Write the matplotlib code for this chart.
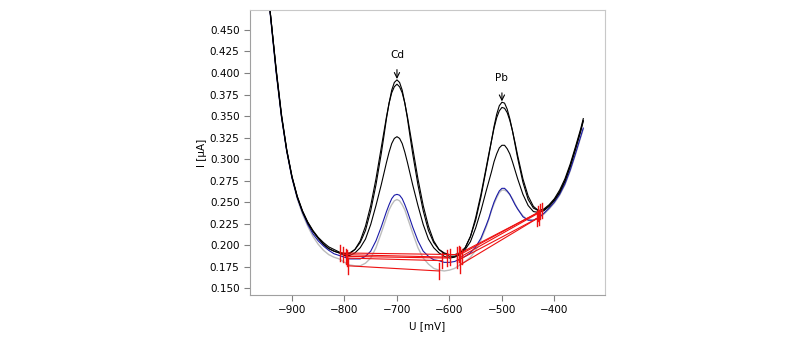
import numpy as np
import matplotlib
matplotlib.use('Agg')
import matplotlib.pyplot as plt

# potential grid (mV), shared by all scans (finer around the two peaks)
u = [-950, -940, -930, -920, -910, -900, -890, -880, -870, -860,
     -850, -840, -830, -820, -810, -800, -790, -780, -770, -760,
     -750, -740, -730,
     -725, -720, -715, -710, -705, -700, -695, -690, -685, -680, -675,
     -670, -660, -650, -640, -630, -620, -610, -600, -590, -580,
     -570, -560, -550, -540, -530,
     -525, -520, -515, -510, -505, -500, -495, -490, -485, -480, -475,
     -470, -460, -450, -440, -430, -420, -410, -400, -390, -380,
     -370, -360, -350, -345]

# currents (uA)
scan_a = [0.520, 0.462, 0.404, 0.352, 0.311, 0.280, 0.257, 0.240, 0.227, 0.217,
          0.209, 0.203, 0.198, 0.195, 0.192, 0.190, 0.191, 0.195, 0.203, 0.217,
          0.240, 0.270, 0.306,
          0.326, 0.347, 0.365, 0.380, 0.389, 0.392, 0.389, 0.380, 0.365, 0.347, 0.326,
          0.306, 0.270, 0.240, 0.217, 0.203, 0.195, 0.191, 0.189, 0.189, 0.191,
          0.197, 0.210, 0.229, 0.256, 0.288,
          0.304, 0.321, 0.338, 0.352, 0.362, 0.366, 0.365, 0.358, 0.347, 0.333, 0.317,
          0.301, 0.273, 0.253, 0.243, 0.240, 0.242, 0.247, 0.254, 0.264, 0.277,
          0.294, 0.314, 0.335, 0.347]
scan_b = [0.520, 0.462, 0.402, 0.350, 0.310, 0.279, 0.256, 0.239, 0.226, 0.216,
          0.208, 0.201, 0.196, 0.193, 0.191, 0.189, 0.190, 0.195, 0.205, 0.222,
          0.246, 0.277, 0.313,
          0.331, 0.349, 0.365, 0.377, 0.384, 0.387, 0.384, 0.377, 0.365, 0.349, 0.331,
          0.313, 0.277, 0.246, 0.222, 0.205, 0.195, 0.190, 0.187, 0.187, 0.190,
          0.197, 0.210, 0.232, 0.259, 0.290,
          0.306, 0.321, 0.336, 0.348, 0.356, 0.360, 0.359, 0.354, 0.345, 0.333, 0.319,
          0.304, 0.277, 0.257, 0.245, 0.240, 0.241, 0.246, 0.253, 0.262, 0.275,
          0.292, 0.312, 0.333, 0.345]
scan_c = [0.520, 0.462, 0.402, 0.350, 0.310, 0.279, 0.256, 0.239, 0.226, 0.216,
          0.208, 0.201, 0.196, 0.193, 0.191, 0.188, 0.188, 0.191, 0.197, 0.207,
          0.224, 0.246, 0.270,
          0.283, 0.296, 0.308, 0.318, 0.324, 0.326, 0.324, 0.318, 0.308, 0.296, 0.283,
          0.270, 0.246, 0.224, 0.207, 0.197, 0.191, 0.187, 0.185, 0.186, 0.189,
          0.195, 0.204, 0.220, 0.240, 0.263,
          0.274, 0.285, 0.297, 0.306, 0.313, 0.316, 0.316, 0.312, 0.306, 0.297, 0.287,
          0.277, 0.259, 0.246, 0.239, 0.238, 0.240, 0.245, 0.252, 0.261, 0.274,
          0.291, 0.311, 0.332, 0.344]
scan_blue = [0.520, 0.460, 0.400, 0.349, 0.309, 0.278, 0.255, 0.238, 0.224, 0.213,
             0.205, 0.199, 0.194, 0.190, 0.188, 0.186, 0.184, 0.184, 0.184, 0.187,
             0.193, 0.205, 0.221,
             0.230, 0.239, 0.247, 0.254, 0.258, 0.259, 0.258, 0.254, 0.247, 0.239, 0.230,
             0.221, 0.205, 0.193, 0.187, 0.183, 0.182, 0.180, 0.180, 0.181, 0.184,
             0.187, 0.191, 0.198, 0.208, 0.223,
             0.231, 0.241, 0.250, 0.257, 0.263, 0.266, 0.266, 0.263, 0.259, 0.253, 0.247,
             0.242, 0.233, 0.229, 0.229, 0.232, 0.237, 0.243, 0.250, 0.259, 0.271,
             0.287, 0.306, 0.326, 0.336]
scan_gray = [0.520, 0.460, 0.400, 0.349, 0.309, 0.278, 0.254, 0.236, 0.222, 0.210,
             0.201, 0.194, 0.189, 0.186, 0.184, 0.180, 0.177, 0.176, 0.176, 0.179,
             0.185, 0.197, 0.214,
             0.223, 0.232, 0.241, 0.247, 0.2515, 0.253, 0.2515, 0.247, 0.241, 0.232, 0.223,
             0.214, 0.197, 0.185, 0.178, 0.173, 0.171, 0.170, 0.171, 0.173, 0.177,
             0.181, 0.186, 0.194, 0.206, 0.221,
             0.230, 0.240, 0.248, 0.255, 0.261, 0.264, 0.264, 0.262, 0.2585, 0.254, 0.248,
             0.242, 0.234, 0.229, 0.229, 0.232, 0.236, 0.242, 0.249, 0.258, 0.270,
             0.286, 0.305, 0.325, 0.335]

# peak baselines (one per scan: a, b, c, blue, gray)
cd_left_u = [-808, -803, -798, -795, -793]
cd_left_i = [0.191, 0.189, 0.187, 0.185, 0.176]
cd_right_u = [-586, -599, -605, -615, -620]
cd_right_i = [0.189, 0.186, 0.185, 0.182, 0.170]
pb_left_u = [-582, -580, -577, -585, -580]
pb_left_i = [0.190, 0.189, 0.187, 0.182, 0.177]
pb_right_u = [-424, -428, -431, -433, -430]
pb_right_i = [0.240, 0.239, 0.237, 0.231, 0.232]

peak_names = ['Cd', 'Pb']
peak_u = [-700, -500]
peak_i = [0.393, 0.367]
label_i = [0.421, 0.394]

plt.rcParams['font.family'] = ['DejaVu Sans']
plt.rcParams['font.size'] = 7.5

fig = plt.figure(figsize=(8, 3.38), dpi=100)
ax = fig.add_axes([0.3125, 0.127, 0.4435, 0.843])

ax.plot(u, scan_gray, color='#bcbcbc', lw=1.0)
ax.plot(u, scan_blue, color='#1a1aa8', lw=0.8)
ax.plot(u, scan_c, color='black', lw=0.8)
ax.plot(u, scan_b, color='black', lw=0.8)
ax.plot(u, scan_a, color='black', lw=0.8)

tick_h = 0.009
for i in range(len(cd_left_u)):
    ax.plot([cd_left_u[i], cd_right_u[i]], [cd_left_i[i], cd_right_i[i]], color='#ee1111', lw=0.8)
    ax.plot([pb_left_u[i], pb_right_u[i]], [pb_left_i[i], pb_right_i[i]], color='#ee1111', lw=0.8)
    for x0, y0 in [(cd_left_u[i], cd_left_i[i]), (cd_right_u[i], cd_right_i[i]),
                   (pb_left_u[i], pb_left_i[i]), (pb_right_u[i], pb_right_i[i])]:
        ax.plot([x0, x0], [y0 - tick_h, y0 + tick_h], color='#ee1111', lw=1.0)

for name, xp, yp, yl in zip(peak_names, peak_u, peak_i, label_i):
    ax.annotate(name, xy=(xp, yp), xytext=(xp, yl), ha='center', va='center',
                arrowprops=dict(arrowstyle='->,head_width=0.25,head_length=0.5',
                                color='black', lw=0.8, shrinkA=5, shrinkB=0))

ax.set_xlim(-980, -304)
ax.set_ylim(0.142, 0.473)
ax.set_xticks([-900, -800, -700, -600, -500, -400])
ax.set_yticks(np.arange(0.150, 0.4501, 0.025))
ax.set_yticklabels(['%.3f' % v for v in np.arange(0.150, 0.4501, 0.025)])
ax.set_xlabel('U [mV]', labelpad=4)
ax.set_ylabel('I [µA]', labelpad=2)

for s in ['top', 'right']:
    ax.spines[s].set_color('#c8c8c8')
for s in ['left', 'bottom']:
    ax.spines[s].set_color('#a0a0a0')
ax.tick_params(direction='out', length=4, color='#808080', labelsize=7.5)

fig.savefig('out.png', dpi=100)
